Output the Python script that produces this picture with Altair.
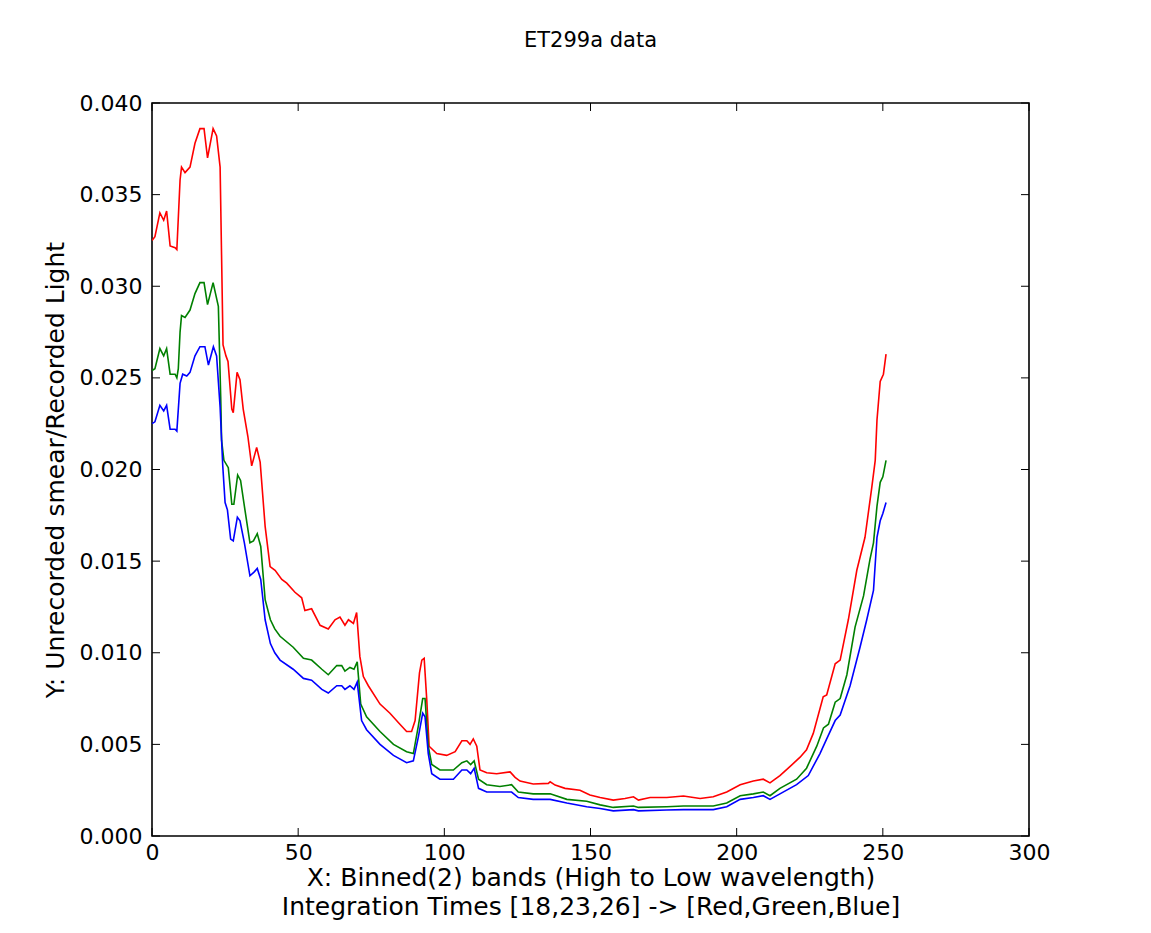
import altair as alt
import pandas as pd

# ---- data ----
red_x = [0, 1, 2.7, 4, 5, 6.2, 7.9, 8.5, 9.6, 10.1, 11.3, 13, 14.7, 16.4, 17.8, 19, 20.9, 22.1, 23.3,
         24.3, 25.3, 26, 27.3, 27.8, 29.1, 30.1, 31.2, 32.8, 34.1, 35.8, 37, 38.7, 40.4, 42.1, 44.4,
         46.1, 48.9, 51.2, 52.3, 54.6, 57.5, 60.3, 62.6, 64.3, 66, 67.2, 68.9, 70, 71.1, 72.3, 74, 78,
         81.4, 84.8, 87.1, 88.8, 90, 91.5, 92.3, 93.1, 94, 94.8, 97.4, 100.8, 103.7, 106, 107.7, 108.8,
         109.9, 111.1, 112.2, 114.5, 117.9, 122.5, 124.2, 125.9, 130.4, 135.6, 136.2, 137.9, 141.3,
         146.4, 149.8, 153.3, 157.8, 161.8, 164.7, 166.4, 170.4, 176.1, 181.8, 187.5, 192, 196.6,
         201.2, 205.7, 209.1, 211.4, 214.8, 218.3, 221.7, 223.9, 226.2, 229.6, 230.8, 233.7, 235.4,
         238.2, 241.1, 243.9, 246.2, 247.4, 248, 249.1, 250.2, 251.1]
red_y = [0.0325, 0.0327, 0.0340, 0.0336, 0.0341, 0.0322, 0.0321, 0.0320, 0.0358, 0.0365, 0.0362,
         0.0365, 0.0378, 0.0386, 0.0386, 0.0370, 0.0386, 0.0382, 0.0365,
         0.0268, 0.0262, 0.0259, 0.0233, 0.0231, 0.0253, 0.0249, 0.0233, 0.0218, 0.0202, 0.0212,
         0.0204, 0.0169, 0.0147, 0.0145, 0.0140, 0.0138, 0.0133, 0.0130, 0.0123, 0.0124, 0.0115,
         0.0113, 0.0118, 0.01195, 0.0115, 0.0118, 0.0116, 0.0122, 0.0098, 0.0087, 0.0082, 0.0072,
         0.0067, 0.0061, 0.0057, 0.0057, 0.0063, 0.0089, 0.0096, 0.0097, 0.0074, 0.0049, 0.0045,
         0.0044, 0.0046, 0.0052, 0.0052, 0.0050, 0.0053, 0.0049, 0.0036, 0.00345, 0.0034, 0.0035,
         0.0032, 0.0030, 0.00284, 0.00287, 0.00296, 0.00278, 0.0026, 0.0025, 0.00224, 0.0021,
         0.00196, 0.00205, 0.00214, 0.00196, 0.0021, 0.0021, 0.00218, 0.00205, 0.00214, 0.0024,
         0.0028, 0.0030, 0.0031, 0.0029, 0.0033, 0.0038, 0.0043, 0.0047, 0.0056, 0.0076, 0.0077,
         0.0094, 0.0096, 0.0118, 0.0145, 0.0163, 0.0190, 0.0205, 0.0227, 0.0248, 0.0252, 0.0263]

green_x = [0, 1, 2.7, 4, 5, 6.2, 7.9, 8.5, 9, 9.6, 10.1, 11.3, 13, 14.7, 16.4, 17.8, 19, 20.9, 22.7,
           23.5, 23.8, 24.6, 26.1, 27.3, 28, 29.3, 30.3, 31.6, 33.5, 34.7, 36, 37.2, 38.7, 40.5, 42,
           43.8, 48.3, 51.8, 54.6, 58.1, 60.3, 63.2, 64.9, 66, 67.7, 69.1, 70.2, 71.4, 73.4, 78, 82.6,
           87.1, 89.4, 91.1, 92.6, 93.4, 94.5, 95.7, 98.5, 103.1, 106, 107.7, 109, 110.2, 111.7, 114.5,
           119, 123, 125.3, 130.4, 136.2, 141.9, 148.7, 153.3, 157.8, 164.7, 166.4, 176.1, 181.8, 192,
           196.6, 201.2, 205.7, 209.1, 211.4, 214.8, 220.5, 223.9, 227.4, 229.7, 231.4, 233.7, 235.4,
           237.7, 240.5, 243.4, 245.6, 246.8, 248, 249.1, 250, 251.1]
green_y = [0.0254, 0.0255, 0.0266, 0.0262, 0.0266, 0.0252, 0.0252, 0.0250, 0.0255, 0.0275, 0.0284,
           0.0283, 0.0287, 0.0296, 0.0302, 0.0302, 0.0290, 0.0302, 0.0289,
           0.0240, 0.0216, 0.0205, 0.0201, 0.0181, 0.0181, 0.0197, 0.0194, 0.0180, 0.0160, 0.0161,
           0.0165, 0.0158, 0.0129, 0.0118, 0.0113, 0.0109, 0.0103, 0.0097, 0.0096, 0.0091, 0.0088,
           0.0093, 0.0093, 0.0090, 0.0092, 0.0091, 0.0095, 0.0072, 0.0065, 0.0057, 0.0050, 0.0046,
           0.0045, 0.0060, 0.0075, 0.0075, 0.0049, 0.0039, 0.0036, 0.0036, 0.0040, 0.0041, 0.0039,
           0.0041, 0.0031, 0.0028, 0.0027, 0.0028, 0.0024, 0.0023, 0.0023, 0.0020, 0.0019, 0.0017,
           0.00156, 0.00164, 0.00156, 0.0016, 0.00164, 0.00164, 0.0018, 0.0022, 0.0023, 0.0024,
           0.0022, 0.0026, 0.0031, 0.0037, 0.0049, 0.0059, 0.0061, 0.0073, 0.0075, 0.0088, 0.0114,
           0.0131, 0.0151, 0.0160, 0.0180, 0.0193, 0.0196, 0.0205]

blue_x = [0, 1, 2.7, 4, 5, 6.2, 7.9, 8.5, 9.6, 10.5, 11.9, 13, 14.7, 16.4, 18.1, 19.3, 21, 22.1, 23.3,
          24.2, 25, 25.8, 26.9, 27.8, 29.2, 30.1, 31.6, 33.5, 34.9, 36, 37.2, 38.7, 40.5, 42, 43.8,
          48.3, 51.8, 54.6, 58.1, 60.3, 63.2, 64.9, 66, 67.7, 69.1, 70.2, 71.7, 73.4, 78, 82.6, 87.1,
          89.4, 91.1, 92.6, 93.4, 94.5, 95.7, 98.5, 103.1, 106, 107.7, 109, 110.2, 111.7, 114.5, 119,
          123, 125.3, 130.4, 136.2, 141.9, 148.7, 153.3, 157.8, 164.7, 166.4, 176.1, 181.8, 192,
          196.6, 201.2, 205.7, 209.1, 211.4, 214.8, 220.5, 224.5, 228.5, 230.8, 233.7, 235.4, 238.8,
          242.2, 244.5, 246.8, 248, 249.1, 250, 251.1]
blue_y = [0.0225, 0.0226, 0.0235, 0.0232, 0.0235, 0.0222, 0.0222, 0.0221, 0.0247, 0.0252, 0.0251,
          0.0253, 0.0262, 0.0267, 0.0267, 0.0257, 0.0267, 0.0262, 0.0234,
          0.0202, 0.0182, 0.0178, 0.0162, 0.0161, 0.0174, 0.0172, 0.0160, 0.0142, 0.0144, 0.0146,
          0.0140, 0.0118, 0.0105, 0.0100, 0.0096, 0.0091, 0.0086, 0.0085, 0.0080, 0.0078, 0.0082,
          0.0082, 0.0080, 0.0082, 0.0080, 0.0084, 0.0063, 0.0058, 0.0050, 0.0044, 0.0040, 0.0041,
          0.0054, 0.0067, 0.0065, 0.0045, 0.0034, 0.0031, 0.0031, 0.0036, 0.0036, 0.0034, 0.0037,
          0.0026, 0.0024, 0.0024, 0.0024, 0.0021, 0.0020, 0.0020, 0.0018, 0.0016, 0.0015, 0.00137,
          0.00144, 0.00137, 0.00142, 0.00144, 0.00144, 0.0016, 0.0020, 0.0021, 0.0022, 0.0020,
          0.0023, 0.0028, 0.0033, 0.0045, 0.0053, 0.0063, 0.0066, 0.0082, 0.0103, 0.0118, 0.0134,
          0.0163, 0.0172, 0.0176, 0.0182]

series_names = ["Red", "Green", "Blue"]
series_colors = ["#ff0000", "#008000", "#0000ff"]

x_ticks = [0, 50, 100, 150, 200, 250, 300]
y_ticks = [0.0, 0.005, 0.010, 0.015, 0.020, 0.025, 0.030, 0.035, 0.040]

rows = []
for name, xs, ys in zip(series_names, [red_x, green_x, blue_x], [red_y, green_y, blue_y]):
    for i, (a, b) in enumerate(zip(xs, ys)):
        rows.append({"series": name, "x": a, "y": b, "i": i})
df = pd.DataFrame(rows)
xt = pd.DataFrame({"t": x_ticks})
yt = pd.DataFrame({"t": y_ticks})

W, H = 877, 733
FONT = "DejaVu Sans"
TL = 8

xscale = alt.Scale(domain=[0, 300], nice=False)
yscale = alt.Scale(domain=[0, 0.04], nice=False)

lines = alt.Chart(df).mark_line(strokeWidth=1.6, clip=True).encode(
    x=alt.X("x:Q", scale=xscale,
            axis=alt.Axis(values=x_ticks, format="d", grid=False, ticks=False, domain=False,
                          labelFontSize=22, labelPadding=6, labelFont=FONT, labelColor="#000",
                          labelFlush=False,
                          title=["X: Binned(2) bands (High to Low wavelength)",
                                 "Integration Times [18,23,26] -> [Red,Green,Blue]"],
                          titleFontSize=25, titleFont=FONT, titleFontWeight="normal",
                          titleColor="#000", titlePadding=2, titleLineHeight=29)),
    y=alt.Y("y:Q", scale=yscale,
            axis=alt.Axis(values=y_ticks, format=".3f", grid=False, ticks=False, domain=False,
                          labelFontSize=22, labelPadding=10, labelFont=FONT, labelColor="#000",
                          labelFlush=False,
                          title="Y: Unrecorded smear/Recorded Light",
                          titleFontSize=25, titleFont=FONT, titleFontWeight="normal",
                          titleColor="#000", titlePadding=11)),
    color=alt.Color("series:N", scale=alt.Scale(domain=series_names, range=series_colors),
                    legend=None),
    order=alt.Order("i:Q"),
)

tick_style = dict(color="#000", strokeWidth=1)
bottom_ticks = alt.Chart(xt).mark_rule(**tick_style).encode(
    x=alt.X("t:Q", scale=xscale), y=alt.value(H), y2=alt.value(H - TL))
top_ticks = alt.Chart(xt).mark_rule(**tick_style).encode(
    x=alt.X("t:Q", scale=xscale), y=alt.value(0), y2=alt.value(TL))
left_ticks = alt.Chart(yt).mark_rule(**tick_style).encode(
    y=alt.Y("t:Q", scale=yscale), x=alt.value(0), x2=alt.value(TL))
right_ticks = alt.Chart(yt).mark_rule(**tick_style).encode(
    y=alt.Y("t:Q", scale=yscale), x=alt.value(W), x2=alt.value(W - TL))

chart = alt.layer(lines, bottom_ticks, top_ticks, left_ticks, right_ticks).properties(
    width=W, height=H,
    background="white",
    title=alt.TitleParams("ET299a data", fontSize=21, font=FONT, fontWeight="normal",
                          color="#000", anchor="middle", frame="group", offset=41),
    autosize=alt.AutoSizeParams(type="none"),
    padding={"left": 144, "top": 95, "right": 114, "bottom": 89},
).configure_view(stroke="#000", strokeWidth=1.6)

chart.save("out.html", embed_options={"renderer": "svg", "actions": False})
